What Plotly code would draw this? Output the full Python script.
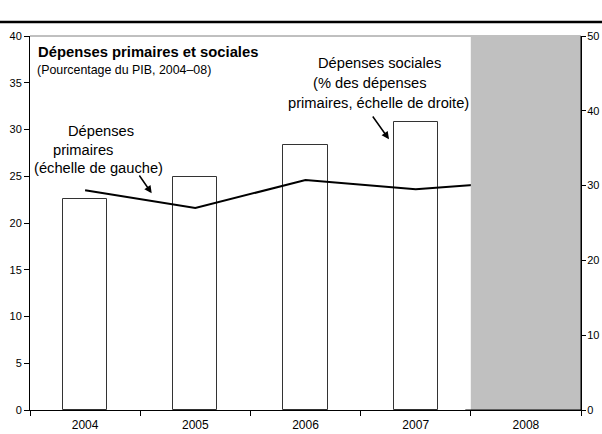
import plotly.graph_objects as go

years = ["2004", "2005", "2006", "2007", "2008"]
# Dépenses primaires, % du PIB (échelle de gauche)
primary = [23.5, 21.6, 24.6, 23.6, 24.5]
# Dépenses sociales, % des dépenses primaires (échelle de droite)
social = [28.2, 31.2, 35.4, 38.5, None]

left_ticks = [0, 5, 10, 15, 20, 25, 30, 35, 40]
right_ticks = [0, 10, 20, 30, 40, 50]

FONT = "Arial, 'Liberation Sans', sans-serif"
W, H = 602, 434
ML, MR, MT, MB = 30, 21, 36, 24
PW, PH = W - ML - MR, H - MT - MB


def px(x):
    return (x - ML) / PW


def py(y):
    return (H - MB - y) / PH


fig = go.Figure()
fig.add_trace(go.Bar(
    x=years, y=social, yaxis="y", width=0.4,
    marker=dict(color="white", line=dict(color="#333333", width=1)),
    showlegend=False,
))
fig.add_trace(go.Scatter(
    x=years, y=primary, yaxis="y2", mode="lines",
    line=dict(color="black", width=2), showlegend=False,
))

axis_common = dict(showline=True, linecolor="black", linewidth=1, ticks="outside",
                   tickcolor="black", tickwidth=1, showgrid=False,
                   zeroline=False, automargin=False,
                   tickfont=dict(family=FONT, size=11, color="black"))

fig.update_layout(
    width=W, height=H,
    margin=dict(l=ML, r=MR, t=MT, b=MB, pad=0, autoexpand=False),
    paper_bgcolor="white", plot_bgcolor="white",
    font=dict(family=FONT, color="black"),
    bargap=0,
    xaxis=dict(type="category", range=[-0.5, 4.5], tickson="boundaries",
               showline=True, linecolor="black", linewidth=1, ticks="outside",
               ticklen=5, tickcolor="black", showgrid=False, zeroline=False,
               automargin=False, ticklabelstandoff=4,
               tickfont=dict(family=FONT, size=12, color="black")),
    yaxis=dict(side="right", range=[0, 50], tickvals=right_ticks, ticklen=4,
               ticklabelstandoff=-1, **axis_common),
    yaxis2=dict(side="left", overlaying="y", range=[0, 40], tickvals=left_ticks,
                ticklen=5, **axis_common),
)

shapes = [
    # top border line of the plot area
    dict(type="line", xref="paper", yref="paper", x0=0, x1=1, y0=1, y1=1,
         line=dict(color="#808080", width=1), layer="above"),
    # shaded 2008 column
    dict(type="rect", xref="paper", yref="paper", x0=0.8, x1=1, y0=0, y1=1,
         fillcolor="#C0C0C0", line=dict(width=0), layer="above"),
    # axes over the shading
    dict(type="line", xref="paper", yref="paper", x0=0.79, x1=1, y0=0, y1=0,
         line=dict(color="black", width=1), layer="above"),
    dict(type="line", xref="paper", yref="paper", x0=1, x1=1, y0=0, y1=1,
         line=dict(color="black", width=1), layer="above"),
    # header rule
    dict(type="line", xref="paper", yref="paper", x0=px(0), x1=px(W), y0=py(22), y1=py(22),
         line=dict(color="black", width=2.5), layer="above"),
]
fig.update_layout(shapes=shapes)

ann = []
ann.append(dict(text="<b>Dépenses primaires et sociales</b>", x=px(36), y=py(52),
                xanchor="left", yanchor="middle", font=dict(size=14.8)))
ann.append(dict(text="(Pourcentage du PIB, 2004–08)", x=px(35), y=py(69.5),
                xanchor="left", yanchor="middle", font=dict(size=12.4)))
for t, x, y in [("Dépenses", 100.5, 130.5), ("primaires", 83, 150), ("(échelle de gauche)", 98, 167.5),
                ("Dépenses sociales", 379.5, 62.7), ("(% des dépenses", 370, 82.7),
                ("primaires, échelle de droite)", 378.3, 102.7)]:
    ann.append(dict(text=t, x=px(x), y=py(y), xanchor="center", yanchor="middle",
                    font=dict(size=14.7)))
for (hx, hy, tx, ty) in [(151.7, 193.3, 138.3, 174), (389, 139.3, 371.7, 115)]:
    ann.append(dict(text="", x=px(hx), y=py(hy), ax=tx - hx, ay=ty - hy, showarrow=True,
                    arrowhead=2, arrowsize=1, arrowwidth=1.5, arrowcolor="black"))
for a in ann:
    a.setdefault("xref", "paper")
    a.setdefault("yref", "paper")
    a.setdefault("showarrow", False)
fig.update_layout(annotations=ann)

fig.write_html("out.html")
